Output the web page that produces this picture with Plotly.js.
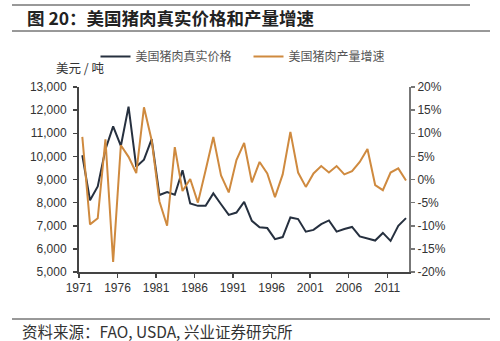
<!DOCTYPE html>
<html>
<head>
<meta charset="utf-8">
<script src="https://cdn.plot.ly/plotly-3.0.1.min.js"></script>
<style>
html,body{margin:0;padding:0;background:#fff;}
#chart{width:500px;height:341px;}
</style>
</head>
<body>
<div id="chart"></div>
<script>
var years = [1971,1972,1973,1974,1975,1976,1977,1978,1979,1980,1981,1982,1983,1984,1985,1986,1987,1988,1989,1990,1991,1992,1993,1994,1995,1996,1997,1998,1999,2000,2001,2002,2003,2004,2005,2006,2007,2008,2009,2010,2011,2012,2013];
var realPrice = [10050,8100,8700,10300,11300,10450,12150,9550,9860,10750,8330,8460,8340,9400,7960,7860,7860,8400,7930,7470,7570,8030,7215,6930,6900,6420,6510,7360,7290,6745,6820,7070,7230,6745,6860,6950,6540,6460,6360,6690,6345,7000,7330];
var prodGrowth = [9.2,-9.7,-8.4,8.7,-17.8,7.4,4.9,1.4,15.6,8.5,-4.7,-10.0,7.0,-2.5,0.1,-5.0,2.0,9.2,0.9,-2.8,4.2,7.9,-0.6,3.8,1.3,-3.8,1.1,10.3,1.5,-1.6,1.3,2.9,1.5,2.9,1.1,1.8,3.8,6.6,-1.2,-2.3,1.5,2.4,-0.2];
var xTickLabels = ['1971','1976','1981','1986','1991','1996','2001','2006','2011'];
var leftTicks = [5000,6000,7000,8000,9000,10000,11000,12000,13000];
var rightTicks = [-20,-15,-10,-5,0,5,10,15,20];
var rightTickLabels = ['-20%','-15%','-10%','-5%','0%','5%','10%','15%','20%'];
var seriesNames = ['美国猪肉真实价格','美国猪肉产量增速'];

var tickShift = 0.43;
var xTickVals = xTickLabels.map(function(t){return Number(t) - tickShift;});

var tickFont = {family:'Liberation Sans, Arial, sans-serif', size:12, color:'#333'};

var traces = [
  {x: years, y: realPrice, name: seriesNames[0], type:'scatter', mode:'lines',
   line:{color:'#26303f', width:2}, yaxis:'y'},
  {x: years, y: prodGrowth, name: seriesNames[1], type:'scatter', mode:'lines',
   line:{color:'#cf8a3f', width:2}, yaxis:'y2'}
];

var layout = {
  width:500, height:341,
  margin:{l:79, r:91, t:87, b:69},
  paper_bgcolor:'#fff', plot_bgcolor:'#fff',
  showlegend:true,
  legend:{orientation:'h', x:0.05, y:1.165, xanchor:'left', yanchor:'middle',
    font:{family:'Noto Sans CJK SC, sans-serif', size:12, color:'#555'},
    bgcolor:'rgba(0,0,0,0)', itemwidth:30, entrywidth:108, entrywidthmode:'pixels', tracegroupgap:0},
  xaxis:{range:[2013.39 - 42.82, 2013.39], tickvals:xTickVals, ticktext:xTickLabels,
    showgrid:false, zeroline:false, showline:true, linecolor:'#444', linewidth:2,
    ticks:'outside', ticklen:4, tickcolor:'#444', tickwidth:1.5, tickfont:tickFont},
  yaxis:{range:[5000,13000], tickvals:leftTicks, tickformat:',d',
    showgrid:false, zeroline:false, showline:true, linecolor:'#444', linewidth:2,
    ticks:'outside', ticklen:4, tickcolor:'#444', tickwidth:1.5, tickfont:tickFont, ticklabelstandoff:4},
  yaxis2:{range:[-20,20], overlaying:'y', side:'right', tickvals:rightTicks, ticktext:rightTickLabels,
    showgrid:false, zeroline:false, showline:true, linecolor:'#777', linewidth:2,
    ticks:'outside', ticklen:4, tickcolor:'#777', tickwidth:1.5, tickfont:tickFont},
  shapes:[
    {type:'line', xref:'paper', yref:'paper', x0:-67/330, x1:391/330, y0:(272-5)/185, y1:(272-5)/185, line:{color:'#333', width:1}},
    {type:'line', xref:'paper', yref:'paper', x0:-67/330, x1:411/330, y0:(272-31)/185, y1:(272-31)/185, line:{color:'#333', width:1}},
    {type:'line', xref:'paper', yref:'paper', x0:-67/330, x1:411/330, y0:(272-319)/185, y1:(272-319)/185, line:{color:'#333', width:1}}
  ],
  annotations:[
    {text:'<b>图 20：美国猪肉真实价格和产量增速</b>', xref:'paper', yref:'paper', x:-54/330, y:(272-17)/185,
     xanchor:'left', yanchor:'middle', showarrow:false,
     font:{family:'Noto Sans CJK SC, sans-serif', size:17.5, color:'#222'}},
    {text:'美元 / 吨', xref:'paper', yref:'paper', x:-25/330, y:(272-68)/185,
     xanchor:'left', yanchor:'middle', showarrow:false,
     font:{family:'Noto Sans CJK SC, sans-serif', size:12.5, color:'#333'}},
    {text:'资料来源：FAO, USDA, 兴业证券研究所', xref:'paper', yref:'paper', x:-59/330, y:(272-331)/185,
     xanchor:'left', yanchor:'middle', showarrow:false,
     font:{family:'Noto Sans CJK SC, sans-serif', size:15.5, color:'#333'}}
  ]
};

Plotly.newPlot('chart', traces, layout, {displayModeBar:false, staticPlot:true});
</script>
</body>
</html>
